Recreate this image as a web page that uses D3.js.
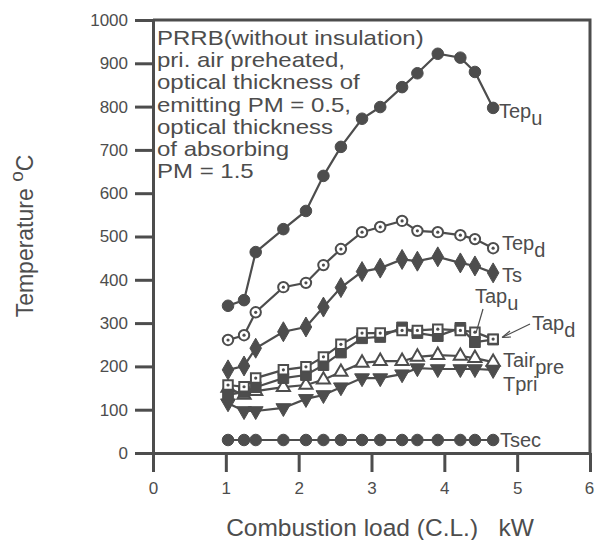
<!DOCTYPE html>
<html>
<head>
<meta charset="utf-8">
<script src="https://cdn.jsdelivr.net/npm/d3@7"></script>
<style>
  html, body { margin: 0; padding: 0; background: #fff; }
  svg { display: block; font-family: "Liberation Sans", Arial, sans-serif; }
</style>
</head>
<body>
<svg id="chart" width="595" height="540"></svg>
<script>
// ---- data ----
const combustionLoad = [1.03, 1.25, 1.41, 1.79, 2.10, 2.34, 2.58, 2.87, 3.12, 3.42, 3.63, 3.91, 4.22, 4.42, 4.67];
const Tep_u   = [340, 353, 464, 517, 559, 640, 707, 772, 799, 845, 877, 922, 913, 880, 797];
const Tep_d   = [261, 272, 325, 383, 393, 434, 471, 510, 522, 536, 513, 510, 503, 494, 473];
const Ts      = [192, 201, 242, 280, 291, 337, 382, 419, 427, 447, 443, 453, 439, 432, 416];
const Tap_u   = [157, 153, 173, 192, 199, 222, 251, 277, 277, 283, 283, 286, 283, 279, 263];
const Tap_d   = [134, 141, 152, 173, 180, 203, 232, 265, 268, 290, 277, 270, 289, 256, 262];
const Tairpre = [150, 134, 143, 152, 157, 169, 187, 208, 212, 212, 222, 226, 224, 219, 210];
const Tpri    = [115, 97, 97, 104, 125, 134, 152, 173, 173, 182, 196, 194, 194, 194, 192];
const Tsec    = [30, 30, 30, 30, 30, 30, 30, 30, 30, 30, 30, 30, 30, 30, 30];
const xTicks = [0, 1, 2, 3, 4, 5, 6];
const yTicks = [0, 100, 200, 300, 400, 500, 600, 700, 800, 900, 1000];
const noteLines = ["PRRB(without insulation)", "pri. air preheated,", "optical thickness of",
  "emitting PM = 0.5,", "optical thickness", "of absorbing", "PM = 1.5"];

const INK = "#4d4d4d";
const svg = d3.select("#chart");
const L = 153, R = 590, T = 20, B = 453;
const x = d3.scaleLinear().domain([0, 6]).range([L, R]);
const y = d3.scaleLinear().domain([0, 1000]).range([B, T]);

// frame (top & right)
svg.append("path")
  .attr("d", `M${L},${T}H${R}V${B}`)
  .attr("fill", "none").attr("stroke", INK).attr("stroke-width", 3);

// axes
const gx = svg.append("g").attr("transform", `translate(0,${B})`)
  .call(d3.axisBottom(x).tickValues(xTicks).tickFormat(d3.format("d"))
    .tickSize(19).tickPadding(10).tickSizeOuter(0));
const gy = svg.append("g").attr("transform", `translate(${L},0)`)
  .call(d3.axisLeft(y).tickValues(yTicks).tickFormat(d3.format("d"))
    .tickSize(18).tickPadding(7).tickSizeOuter(0));
[gx, gy].forEach(g => {
  g.selectAll("path.domain").attr("stroke", INK).attr("stroke-width", 3);
  g.selectAll(".tick line").attr("stroke", INK).attr("stroke-width", 3);
  g.selectAll(".tick text").attr("fill", INK).style("font-size", "17px")
    .style("font-family", "'Liberation Sans', Arial, sans-serif");
});
gx.selectAll(".tick text").filter(d => d === 6).attr("dx", -1).attr("text-anchor", "middle");

// axis titles
svg.append("text").attr("x", 380).attr("y", 536).attr("text-anchor", "middle")
  .attr("fill", INK).style("font-size", "24.5px")
  .text("Combustion load (C.L.)\u00a0\u00a0\u00a0kW");
const yt = svg.append("text").attr("transform", "translate(33,236) rotate(-90)")
  .attr("text-anchor", "middle").attr("fill", INK).style("font-size", "23px");
yt.append("tspan").text("Temperature ");
yt.append("tspan").attr("dy", -10).style("font-size", "19px").text("o");
yt.append("tspan").attr("dy", 10).text("C");

// annotation
const note = svg.append("text").attr("transform", "translate(157,0) scale(1.2,1)")
  .attr("fill", INK).style("font-size", "20px");
noteLines.forEach((t, i) => note.append("tspan").attr("x", 0).attr("y", 45 + i * 22.2).text(t));

// series
const line = d3.line().x(d => x(d[0])).y(d => y(d[1]));
const series = [
  { name: "Tsec", vals: Tsec, m: "circleF" },
  { name: "Tpri", vals: Tpri, m: "triDownF" },
  { name: "Tairpre", vals: Tairpre, m: "triUpO" },
  { name: "Tap_d", vals: Tap_d, m: "squareF" },
  { name: "Tap_u", vals: Tap_u, m: "squareO" },
  { name: "Ts", vals: Ts, m: "diamondF" },
  { name: "Tep_d", vals: Tep_d, m: "circleO" },
  { name: "Tep_u", vals: Tep_u, m: "circleF" }
];
const sym = {
  circleF: d3.symbol(d3.symbolCircle, 105),
  circleO: d3.symbol(d3.symbolCircle, 85),
  triDownF: d3.symbol(d3.symbolTriangle, 95),
  triUpO: d3.symbol(d3.symbolTriangle, 75),
  squareF: d3.symbol(d3.symbolSquare, 115),
  squareO: d3.symbol(d3.symbolSquare, 90),
  diamondF: d3.symbol(d3.symbolDiamond, 115)
};
series.forEach(s => {
  const pts = combustionLoad.map((c, i) => [c, s.vals[i]]);
  svg.append("path").datum(pts).attr("d", line)
    .attr("fill", "none").attr("stroke", INK).attr("stroke-width", 2.2);
});
series.forEach(s => {
  const pts = combustionLoad.map((c, i) => [c, s.vals[i]]);
  const open = s.m.endsWith("O");
  const g = svg.append("g");
  g.selectAll("path").data(pts).join("path")
    .attr("transform", d => `translate(${x(d[0])},${y(d[1])})` + (s.m === "triDownF" ? " rotate(180)" : ""))
    .attr("d", sym[s.m]())
    .attr("fill", open ? "#fff" : INK)
    .attr("stroke", INK).attr("stroke-width", open ? 2 : 1);
  if (s.m === "circleO" || s.m === "squareO") {
    g.selectAll("circle").data(pts).join("circle")
      .attr("cx", d => x(d[0])).attr("cy", d => y(d[1])).attr("r", 1.6).attr("fill", INK);
  }
});

// series labels
function label(xp, yp, main, sub) {
  const t = svg.append("text").attr("x", xp).attr("y", yp).attr("fill", INK).style("font-size", "20px");
  t.append("tspan").text(main);
  if (sub) t.append("tspan").attr("dy", 7).text(sub);
}
label(499, 118, "Tep", "u");
label(502, 250, "Tep", "d");
label(502, 282, "Ts");
label(475, 303, "Tap", "u");
label(532, 330, "Tap", "d");
label(503, 367, "Tair", "pre");
label(503, 391, "Tpri");
label(500, 447, "Tsec");

// leader lines
svg.append("line").attr("x1", 483).attr("y1", 309).attr("x2", 476).attr("y2", 333)
  .attr("stroke", INK).attr("stroke-width", 1.2);
svg.append("line").attr("x1", 530).attr("y1", 324).attr("x2", 503).attr("y2", 337)
  .attr("stroke", INK).attr("stroke-width", 1.2);
svg.append("path").attr("d", "M502,337.5 L510,331 M502,337.5 L511,337")
  .attr("stroke", INK).attr("stroke-width", 1.2).attr("fill", "none");
</script>
</body>
</html>
